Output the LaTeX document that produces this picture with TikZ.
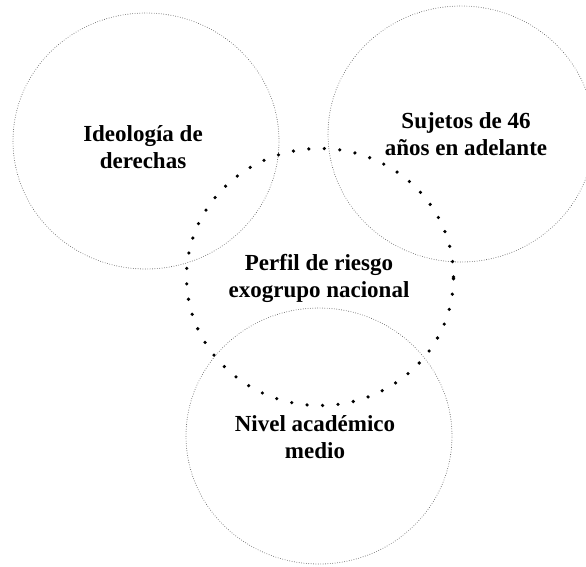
\documentclass[tikz,border=0pt]{standalone}
\usepackage{fontspec}
\setmainfont{Liberation Serif}
\usetikzlibrary{shapes.geometric, positioning}

\begin{document}
\begin{tikzpicture}[
    x=1pt, y=-1pt,
    set/.style={ellipse, draw=black!65, line width=0.9pt, line cap=round, dash pattern=on 0pt off 2.4pt, minimum width=266pt, minimum height=256pt, inner sep=0pt},
    profile/.style={ellipse, draw=black, line width=3.6pt, line cap=round, dash pattern=on 0pt off 15.5pt, minimum width=267pt, minimum height=257pt, inner sep=0pt},
    lbl/.style={font=\fontsize{23}{27}\selectfont\bfseries, align=center},
]
\useasboundingbox (0,0) rectangle (586,566);
\clip (0,0) rectangle (586,566);

% the three groups
\node[set] (right) at (146,141) {};
\node[set] (age) at (461,134) {};
\node[set] (study) at (319,436) {};

% risk profile
\node[profile] (risk) at (320,277) {};

\node[lbl] (rightlbl) at (143,147) {Ideología de\\derechas};
\node[lbl] (agelbl) at (466,134) {Sujetos de 46\\años en adelante};
\node[lbl] (risklbl) at (319,278) {Perfil de riesgo\\exogrupo nacional};
\node[lbl] (studylbl) at (315,437) {Nivel académico\\medio};
\end{tikzpicture}
\end{document}
